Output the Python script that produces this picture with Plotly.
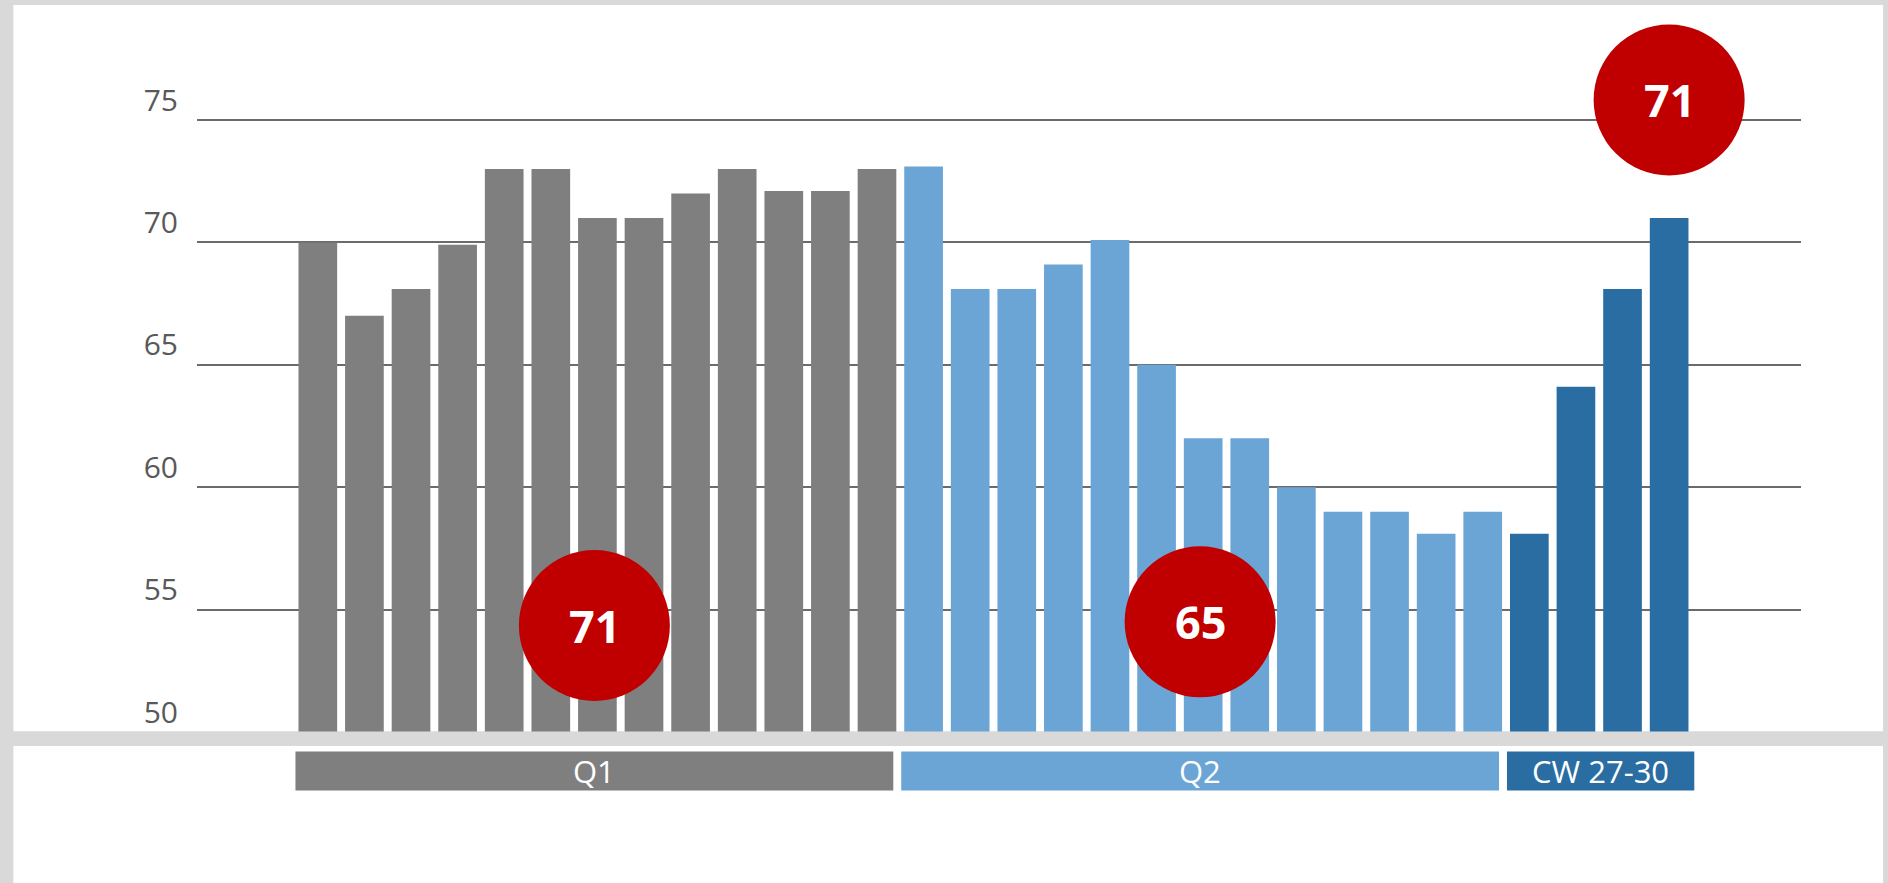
import plotly.graph_objects as go

# ---------------- data ----------------
weeks = ["CW 1", "CW 2", "CW 3", "CW 4", "CW 5", "CW 6", "CW 7", "CW 8", "CW 9", "CW 10",
         "CW 11", "CW 12", "CW 13", "CW 14", "CW 15", "CW 16", "CW 17", "CW 18", "CW 19", "CW 20",
         "CW 21", "CW 22", "CW 23", "CW 24", "CW 25", "CW 26", "CW 27", "CW 28", "CW 29", "CW 30"]
q1_values = [70.0, 67.0, 68.1, 69.9, 73.0, 73.0, 71.0, 71.0, 72.0, 73.0, 72.1, 72.1, 73.0]
q2_values = [73.1, 68.1, 68.1, 69.1, 70.1, 65.0, 62.0, 62.0, 60.0, 59.0, 59.0, 58.1, 59.0]
cw_values = [58.1, 64.1, 68.1, 71.0]
group_labels = ["Q1", "Q2", "CW 27-30"]
group_scores = ["71", "65", "71"]
tick_values = [50, 55, 60, 65, 70, 75]

# ---------------- styles ----------------
GRAY = "#7f7f7f"
LIGHT = "#6aa5d6"
DARK = "#2a6da3"
RED = "#c00000"
BG = "#d9d9d9"
group_colors = [GRAY, LIGHT, DARK]
FONT = "Open Sans"

W, H = 1888, 883
ML, MR, MT, MB = 197, 87, 10, 151
PW, PH = W - ML - MR, H - MT - MB


def xp(px):
    return (px - ML) / PW


def yp(py):
    return (H - MB - py) / PH


groups = [q1_values, q2_values, cw_values]
values = q1_values + q2_values + cw_values
colors = []
for vals, c in zip(groups, group_colors):
    colors += [c] * len(vals)

fig = go.Figure()
fig.add_trace(go.Bar(x=weeks, y=values, marker=dict(color=colors, line=dict(width=0)),
                     hoverinfo="x+y", showlegend=False))

shapes = []
annotations = []
# panels
shapes.append(dict(type="rect", xref="paper", yref="paper", x0=xp(13.4), x1=xp(1883),
                   y0=yp(731.5), y1=yp(5), fillcolor="white", line=dict(width=0), layer="below"))
shapes.append(dict(type="rect", xref="paper", yref="paper", x0=xp(13.4), x1=xp(1883),
                   y0=yp(883), y1=yp(746), fillcolor="white", line=dict(width=0), layer="below"))
shapes.append(dict(type="rect", xref="paper", yref="paper", x0=xp(0), x1=xp(W),
                   y0=yp(746), y1=yp(731.5), fillcolor=BG, line=dict(width=0), layer="above"))

# group label boxes and bubbles
start = 0
bubble_y = [54.35, 54.5, 75.82]
for gi, vals in enumerate(groups):
    first = start
    last = start + len(vals) - 1
    x0 = first - 0.48
    x1 = last + (0.35 if gi < 2 else 0.54)
    shapes.append(dict(type="rect", xref="x", yref="paper", x0=x0, x1=x1,
                       y0=yp(790.5), y1=yp(751.5), fillcolor=group_colors[gi],
                       line=dict(width=0), layer="above"))
    annotations.append(dict(x=(x0 + x1) / 2, y=yp(771), xref="x", yref="paper",
                            text=group_labels[gi], showarrow=False,
                            font=dict(family=FONT, size=31, color="white"),
                            xanchor="center", yanchor="middle"))
    bx = (x0 + x1) / 2 if gi < 2 else last
    shapes.append(dict(type="circle", xref="x", yref="y", xsizemode="pixel", ysizemode="pixel",
                       xanchor=bx, yanchor=bubble_y[gi], x0=-75.5, x1=75.5, y0=-75.5, y1=75.5,
                       fillcolor=RED, line=dict(width=0), layer="above"))
    annotations.append(dict(x=bx, y=bubble_y[gi], xref="x", yref="y",
                            text="<b>" + group_scores[gi] + "</b>", showarrow=False,
                            font=dict(family=FONT, size=45, color="white"),
                            xanchor="center", yanchor="middle"))
    start = last + 1

fig.update_layout(
    width=W, height=H, autosize=False,
    margin=dict(l=ML, r=MR, t=MT, b=MB, pad=0),
    paper_bgcolor=BG, plot_bgcolor="rgba(0,0,0,0)",
    bargap=0.17, barmode="overlay",
    shapes=shapes, annotations=annotations,
    font=dict(family=FONT),
    xaxis=dict(type="category", range=[-2.593, 31.83], showticklabels=False, showgrid=False,
               zeroline=False, showline=False, ticks="", fixedrange=True),
    yaxis=dict(range=[50, 50 + PH / 24.48], tickmode="array", tickvals=tick_values,
               ticktext=[str(v) for v in tick_values],
               showgrid=True, gridcolor="#6b6b6b", gridwidth=2, zeroline=False, showline=False,
               ticks="", tickfont=dict(family=FONT, size=30, color="#595959"),
               ticklabelshift=-20, ticklabelstandoff=18, fixedrange=True),
)

fig.write_html("out.html", config={"displayModeBar": False},
               post_script="document.body.style.margin='0';document.body.style.overflow='hidden';")
